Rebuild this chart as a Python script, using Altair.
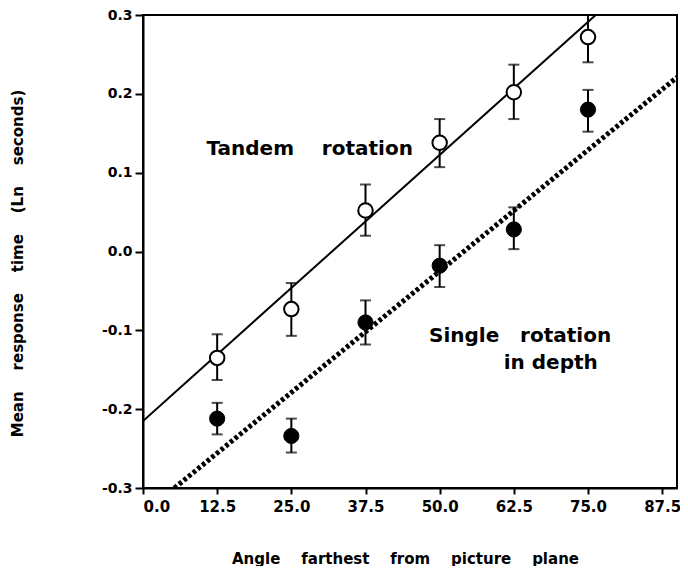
import altair as alt
import pandas as pd

# ---- data ----
angles = [12.5, 25.0, 37.5, 50.0, 62.5, 75.0]

tandem_mean = [-0.135, -0.073, 0.052, 0.138, 0.202, 0.272]
tandem_hi = [-0.105, -0.040, 0.085, 0.168, 0.237, 0.300]
tandem_lo = [-0.163, -0.107, 0.020, 0.107, 0.168, 0.240]

single_mean = [-0.212, -0.234, -0.090, -0.018, 0.028, 0.180]
single_hi = [-0.192, -0.212, -0.062, 0.008, 0.056, 0.205]
single_lo = [-0.232, -0.255, -0.118, -0.045, 0.003, 0.152]

tandem_fit_x = [0.0, 76.3]
tandem_fit_y = [-0.215, 0.300]
single_fit_x = [5.3, 90.0]
single_fit_y = [-0.300, 0.221]

x_ticks = [0.0, 12.5, 25.0, 37.5, 50.0, 62.5, 75.0, 87.5]
y_ticks = [-0.3, -0.2, -0.1, 0.0, 0.1, 0.2, 0.3]

NB = "\u00a0"
note_text = ["Tandem" + NB * 4 + "rotation", "Single" + NB * 3 + "rotation", "in" + NB + "depth"]
note_x = [10.7, 48.2, 60.8]
note_y = [0.130, -0.107, -0.142]

x_title = (NB * 4).join(["Angle", "farthest", "from", "picture", "plane"])
y_title = (NB * 4).join(["Mean", "response", "time", "(Ln", "seconds)"])

FONT = "DejaVu Sans"
W, H = 534, 473

tandem = pd.DataFrame({"angle": angles, "mean": tandem_mean, "hi": tandem_hi, "lo": tandem_lo})
single = pd.DataFrame({"angle": angles, "mean": single_mean, "hi": single_hi, "lo": single_lo})
tfit = pd.DataFrame({"angle": tandem_fit_x, "mean": tandem_fit_y})
sfit = pd.DataFrame({"angle": single_fit_x, "mean": single_fit_y})
notes = pd.DataFrame({"angle": note_x, "mean": note_y, "text": note_text})

xscale = alt.Scale(domain=[0, 90], nice=False, zero=False)
yscale = alt.Scale(domain=[-0.3, 0.3], nice=False, zero=False)

xaxis = alt.Axis(
    values=x_ticks, format=".1f", title=x_title,
    labelFont=FONT, labelFontSize=15, labelFontWeight="bold", labelColor="black",
    labelPadding=5, tickSize=6, tickWidth=2, tickColor="black",
    domainColor="black", domainWidth=2, grid=False,
    titleFont=FONT, titleFontSize=15, titleFontWeight="bold", titleColor="black",
    titlePadding=37, titleX=262,
)
yaxis = alt.Axis(
    values=y_ticks,
    labelExpr="datum.value < 0 ? '-' + format(-datum.value, '.1f') : format(datum.value, '.1f')",
    title=y_title,
    labelFont=FONT, labelFontSize=14, labelFontWeight="bold", labelColor="black",
    labelPadding=3, tickSize=8, tickWidth=2, tickColor="black",
    domainColor="black", domainWidth=2, grid=False,
    titleFont=FONT, titleFontSize=15, titleFontWeight="bold", titleColor="black",
    titlePadding=76, titleY=248,
)

X = alt.X("angle:Q", scale=xscale, axis=xaxis)
Y = alt.Y("mean:Q", scale=yscale, axis=yaxis)

tline = alt.Chart(tfit).mark_line(color="black", strokeWidth=2, clip=True).encode(x=X, y=Y)
sline = alt.Chart(sfit).mark_line(color="black", strokeWidth=5, strokeDash=[3.5, 2.5], clip=True).encode(x=X, y=Y)


def errbars(df):
    base = alt.Chart(df)
    rule = base.mark_rule(color="black", strokeWidth=2).encode(
        x=alt.X("angle:Q", scale=xscale), y=alt.Y("lo:Q", scale=yscale), y2="hi:Q")
    cap_hi = base.mark_tick(color="black", orient="horizontal", size=11, thickness=2).encode(
        x=alt.X("angle:Q", scale=xscale), y=alt.Y("hi:Q", scale=yscale))
    cap_lo = base.mark_tick(color="black", orient="horizontal", size=11, thickness=2).encode(
        x=alt.X("angle:Q", scale=xscale), y=alt.Y("lo:Q", scale=yscale))
    return rule + cap_hi + cap_lo


tpts = alt.Chart(tandem).mark_point(shape="circle", filled=True, fill="white", stroke="black",
                                    strokeWidth=2, size=210, opacity=1).encode(x=X, y=Y)
spts = alt.Chart(single).mark_point(shape="circle", filled=True, fill="black", stroke="black",
                                    strokeWidth=1, size=230, opacity=1).encode(x=X, y=Y)

txt = alt.Chart(notes).mark_text(font=FONT, fontSize=20, fontWeight="bold", align="left",
                                 baseline="middle", color="black").encode(x=X, y=Y, text="text:N")

chart = alt.layer(
    tline, sline, errbars(tandem), errbars(single), tpts, spts, txt
).properties(
    width=W, height=H,
    background="white",
    autosize=alt.AutoSizeParams(type="none"),
    padding={"left": 135, "top": 7, "right": 3, "bottom": 78},
).configure_view(
    stroke="black", strokeWidth=2
)

chart.save("out.html", embed_options={"renderer": "svg", "actions": False})
